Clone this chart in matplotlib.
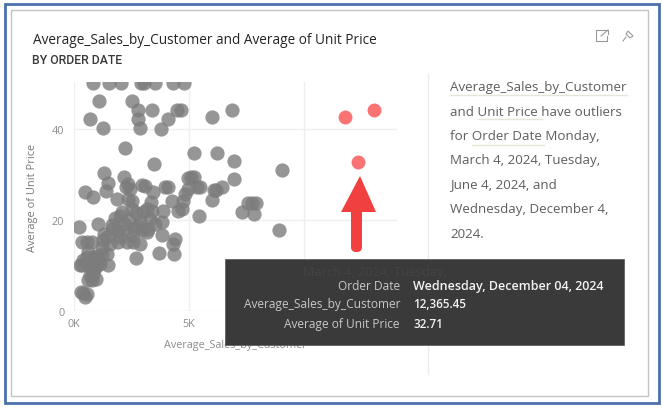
import matplotlib
matplotlib.use("Agg")
import matplotlib.pyplot as plt
from matplotlib.patches import Rectangle, Polygon, FancyBboxPatch

plt.rcParams['font.family'] = ['Open Sans', 'DejaVu Sans']

sales_normal = [840,1510,2030,2910,3040,3540,4290,4780,
    1090,2510,2770,3390,4490,4640,700,2800,4080,1260,2860,3800,2220,5220,3470,
    6020,6860,6210,6960,9050,6960,6420,6100,6160,5470,5230,6000,5440,
    7580,7730,7920,7300,7820,8920,
    1290,2190,1490,1390,490,830,2360,2260,2940,3090,2440,3960,4100,3450,
    5080,4970,5340,4970,4830,4750,4680,4540,1870,2510,2360,3350,3160,4250,
    2100,2000,2990,3880,3810,3310,230,1030,1670,2220,2870,2800,
    3810,4410,4320,3710,4350,2700,330,550,770,1270,1420,1930,2000,2290,2580,
    2870,3160,3230,1570,1930,1640,2220,2580,2940,260,400,550,840,1200,1420,
    1490,330,620,910,1130,770,840,620,770,960,290,550,480,400,
    2400,2600,2700,1800,2500,3400,3500,1200,1000,1300,600,900,1100,700]
price_normal = [50,50,50,50,50,50,50,50,
    46.1,46.2,44.2,44.2,44.2,44.2,42.1,42.1,42.1,40.1,40.1,39.9,35.7,34.6,32.2,
    42.6,44.2,34.6,33.0,30.9,29.1,27.3,26.6,26.6,27.3,29.4,24.3,20.9,
    23.7,23.7,23.7,21.7,21.3,17.7,
    30.4,29.5,28.1,26.3,26.2,25.1,27.9,27.2,27.7,27.5,26.8,27.2,27.2,26.1,
    29.4,29.2,27.2,26.8,25.7,24.2,22.4,22.0,24.5,24.1,24.6,23.9,22.4,24.2,
    21.8,20.9,21.7,22.0,19.6,20.2,18.4,19.1,18.9,19.1,19.8,18.7,
    16.8,15.8,14.7,12.7,12.5,11.6,15.1,15.1,15.1,15.5,16.2,17.6,16.2,15.1,15.1,
    14.7,17.3,18.0,14.7,15.1,18.0,18.0,16.6,17.7,10.2,11.1,11.8,11.8,12.5,12.5,
    10.2,10.0,10.0,10.0,10.3,8.9,8.1,6.8,6.8,7.0,4.1,3.7,3.1,3.9,
    20.0,18.0,21.5,20.5,22.5,22.0,19.0,14.0,12.0,17.0,13.0,9.5,11.0,8.0]
sales_outlier = [11780, 13040, 12365.45]
price_outlier = [42.7, 44.2, 32.71]
x_ticks = [0, 5000, 10000]
x_tick_labels = ['0K', '5K', '10K']
y_ticks = [0, 20, 40]

W, H = 662, 410
fig = plt.figure(figsize=(W/100, H/100), dpi=100, facecolor='white')

# page overlay, background layer (pixel space)
bg = fig.add_axes([0, 0, 1, 1], zorder=0)
bg.set_xlim(0, W); bg.set_ylim(H, 0); bg.axis('off')
bg.add_patch(Rectangle((4.5, 4.5), 654, 399, fc='white', ec='#4a70ad', lw=2))
bg.add_patch(Rectangle((10.5, 10.5), 637, 386, fc='white', ec='#c4c4c4', lw=1))
bg.plot([428, 428], [75, 375], color='#ececec', lw=1)

# scatter
ax = fig.add_axes([74/W, (H-312)/H, (397-74)/W, (312-83)/H], zorder=1)
ax.set_xlim(0, 14040)
ax.set_ylim(0, 50.3)
ax.patch.set_alpha(0)
for s in ax.spines.values():
    s.set_visible(False)
ax.set_xticks(x_ticks, x_tick_labels)
ax.set_yticks(y_ticks)
ax.tick_params(axis='x', length=0, labelsize=7.8, colors='#8c8c8c', pad=5)
ax.tick_params(axis='y', length=0, labelsize=7.8, colors='#8c8c8c', pad=7)
ax.grid(color='#efefef', lw=1)
ax.set_axisbelow(True)
ax.scatter(sales_normal, price_normal, s=105, color='#7c7c7c', alpha=0.8, linewidths=0, zorder=3)
ax.scatter(sales_outlier, price_outlier, s=100, color='#fa7373', linewidths=0, zorder=3)
ax.set_xlabel('Average_Sales_by_Customer', fontsize=7.8, color='#8c8c8c', labelpad=7)
ax.set_ylabel('Average of Unit Price', fontsize=7.9, color='#777777', labelpad=10)

# foreground overlay
fg = fig.add_axes([0, 0, 1, 1], zorder=2)
fg.set_xlim(0, W); fg.set_ylim(H, 0); fg.axis('off'); fg.patch.set_alpha(0)

fg.text(33, 41, 'Average_Sales_by_Customer and Average of Unit Price', fontsize=9.8,
        color='#252423', va='center', ha='left')
fg.text(32, 60, 'BY ORDER DATE', fontsize=8.8, color='#3a3a3a', va='center', ha='left',
        family='Roboto', fontweight='medium')

# narrative text
lines = [('Average_Sales_by_Customer', 88), ('and Unit Price have outliers', 112),
         ('for Order Date Monday,', 137), ('March 4, 2024, Tuesday,', 161),
         ('June 4, 2024, and', 185), ('Wednesday, December 4,', 210), ('2024.', 235)]
for t, y in lines:
    fg.text(450, y, t, fontsize=9.6, color='#605e5c', va='center', ha='left')
for x0, x1, y in [(450, 627, 96), (478, 542, 120), (472, 544, 146)]:
    fg.plot([x0, x1], [y, y], color='#e4e6d6', lw=1)

# icons
fg.plot([605, 596, 596, 607, 607], [31, 31, 42, 42, 37], color='#9a9a9a', lw=0.8)
fg.plot([601, 608], [37, 31], color='#9a9a9a', lw=0.8)
fg.plot([604, 608, 608], [31, 31, 35], color='#9a9a9a', lw=0.8)
fg.add_patch(Polygon([(628, 32), (633, 37), (630, 39), (626, 35)], fc='none', ec='#9a9a9a', lw=0.8))
fg.plot([626, 623], [38, 42], color='#9a9a9a', lw=0.8)

# arrow
fg.add_patch(FancyBboxPatch((351, 205), 11, 48, boxstyle='round,pad=0,rounding_size=5',
                            fc='#f04040', ec='none', zorder=5))
fg.add_patch(Polygon([(360, 177), (376, 213), (341, 213)], fc='#f04040', ec='none', zorder=5))

# tooltip
fg.add_patch(Rectangle((225, 260), 399, 86, fc='#3a3a3a', ec='#555555', lw=0.5, zorder=6))
fg.text(375, 273, 'March 4, 2024, Tuesday,', fontsize=9.2, color='#444444', ha='center', va='center', zorder=7)
tip = [('Order Date', 'Wednesday, December 04, 2024', 287, 9.0),
       ('Average_Sales_by_Customer', '12,365.45', 305, 8.4),
       ('Average of Unit Price', '32.71', 325, 8.4)]
for k, v, y, vs in tip:
    fg.text(400, y, k, fontsize=8.6, color='#c8c8c8', ha='right', va='center', zorder=7)
    fg.text(413, y, v, fontsize=vs, color='#f2f2f2', ha='left', va='center', zorder=7, fontweight='semibold')

fig.savefig('out.png', dpi=100)
